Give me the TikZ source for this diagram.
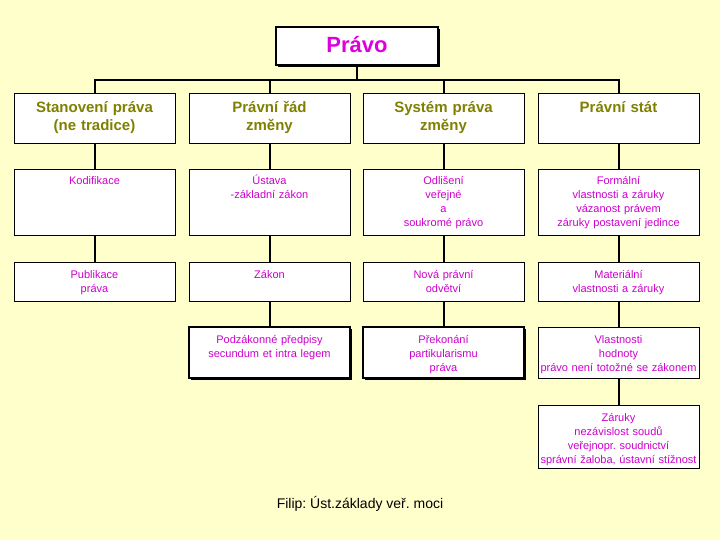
\documentclass[tikz,border=0pt]{standalone}
\usepackage{fontspec}
\setmainfont{Liberation Sans}
\usetikzlibrary{shadows}
\definecolor{bg}{RGB}{255,255,204}
\definecolor{tmag}{RGB}{221,0,221}
\definecolor{smag}{RGB}{204,0,204}
\definecolor{olivetxt}{RGB}{128,128,0}
\frenchspacing
\begin{document}
\begin{tikzpicture}[x=1pt,y=-1pt,
 box/.style={draw=black, fill=white, line width=0.8pt, inner sep=0pt, minimum width=161pt},
 sbox/.style={box, line width=1.4pt, drop shadow={shadow xshift=1.6pt, shadow yshift=-1.6pt, fill=black, opacity=1}},
 conn/.style={line width=2pt, black},
 hd/.style={anchor=base, text width=160pt, align=center, inner sep=0pt, font=\fontsize{15}{18}\selectfont\bfseries, text=olivetxt},
 sm/.style={anchor=base, text width=160pt, align=center, inner sep=0pt, font=\fontsize{11}{14}\selectfont, text=smag},
]
\fill[bg] (0,0) rectangle (720,540);
\useasboundingbox (0,0) rectangle (720,540);

% boxes
\node[sbox, minimum width=162pt, minimum height=38pt] (p) at (357,46) {};
\node[box, minimum height=50pt] (b11) at (94.5,118) {};
\node[box, minimum height=50pt] (b21) at (269.5,118) {};
\node[box, minimum height=50pt] (b31) at (443.5,118) {};
\node[box, minimum height=50pt] (b41) at (618.5,118) {};
\node[box, minimum height=66pt] (b12) at (94.5,202) {};
\node[box, minimum height=66pt] (b22) at (269.5,202) {};
\node[box, minimum height=66pt] (b32) at (443.5,202) {};
\node[box, minimum height=66pt] (b42) at (618.5,202) {};
\node[box, minimum height=39pt] (b13) at (94.5,281.5) {};
\node[box, minimum height=39pt] (b23) at (269.5,281.5) {};
\node[box, minimum height=39pt] (b33) at (443.5,281.5) {};
\node[box, minimum height=39pt] (b43) at (618.5,281.5) {};
\node[sbox, minimum height=51pt] (b24) at (269.5,352.5) {};
\node[sbox, minimum height=51pt] (b34) at (443.5,352.5) {};
\node[box, minimum height=51pt] (b44) at (618.5,352.5) {};
\node[box, minimum height=63pt] (b45) at (618.5,436.5) {};

% connectors
\coordinate (busL) at (94.5,80);
\coordinate (busR) at (618.5,80);
\draw[conn] (p.south) -- (p.south |- busL);
\draw[conn] (b11.north) -- (busL) -- (busR) -- (b41.north);
\draw[conn] (b21.north) -- (b21.north |- busL);
\draw[conn] (b31.north) -- (b31.north |- busL);
\draw[conn] (b11.south) -- (b12.north);
\draw[conn] (b12.south) -- (b13.north);
\draw[conn] (b21.south) -- (b22.north);
\draw[conn] (b22.south) -- (b23.north);
\draw[conn] (b23.south) -- (b24.north);
\draw[conn] (b31.south) -- (b32.north);
\draw[conn] (b32.south) -- (b33.north);
\draw[conn] (b33.south) -- (b34.north);
\draw[conn] (b41.south) -- (b42.north);
\draw[conn] (b42.south) -- (b43.north);
\draw[conn] (b43.south) -- (b44.north);
\draw[conn] (b44.south) -- (b45.north);

% texts
\node[anchor=base, inner sep=0pt, font=\fontsize{22}{26}\selectfont\bfseries, text=tmag] (pt) at (357,53) {Právo};
\node[hd] (t11) at (94.5,113) {Stanovení práva\\(ne tradice)};
\node[hd] (t21) at (269.5,113) {Právní řád\\změny};
\node[hd] (t31) at (443.5,113) {Systém práva\\změny};
\node[hd] (t41) at (618.5,113) {Právní stát};
\node[sm] (t12) at (94.5,185) {Kodifikace};
\node[sm] (t22) at (269.5,185) {Ústava\\-základní zákon};
\node[sm] (t32) at (443.5,185) {Odlišení\\veřejné\\a\\soukromé právo};
\node[sm] (t42) at (618.5,185) {Formální\\vlastnosti a záruky\\vázanost právem\\záruky postavení jedince};
\node[sm] (t13) at (94.5,278) {Publikace\\práva};
\node[sm] (t23) at (269.5,278) {Zákon};
\node[sm] (t33) at (443.5,278) {Nová právní\\odvětví};
\node[sm] (t43) at (618.5,278) {Materiální\\vlastnosti a záruky};
\node[sm] (t24) at (269.5,343) {Podzákonné předpisy\\secundum et intra legem};
\node[sm] (t34) at (443.5,343) {Překonání\\partikularismu\\práva};
\node[sm] (t44) at (618.5,343) {Vlastnosti\\hodnoty\\právo není totožné se zákonem};
\node[sm] (t45) at (618.5,421) {Záruky\\nezávislost soudů\\veřejnopr. soudnictví\\správní žaloba, ústavní stížnost};
\node[anchor=base, inner sep=0pt, font=\fontsize{14}{16}\selectfont, text=black] (ft) at (360,508) {Filip: Úst.základy veř. moci};
\end{tikzpicture}
\end{document}
